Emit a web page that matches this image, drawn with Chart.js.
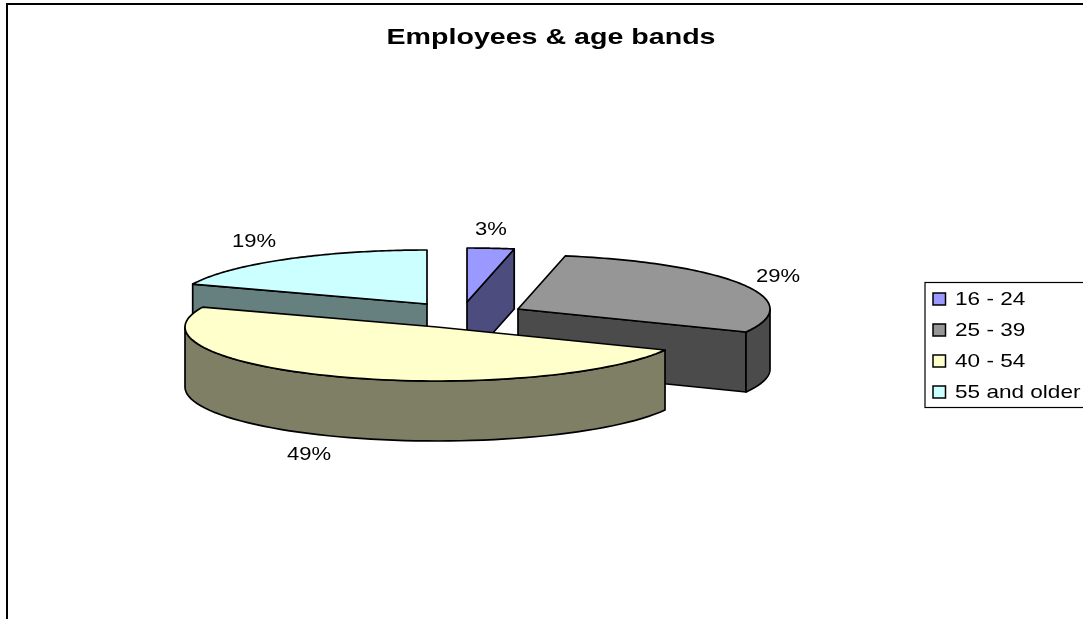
<!DOCTYPE html>
<html>
<head>
<meta charset="utf-8">
<title>Employees & age bands</title>
<script src="https://cdn.jsdelivr.net/npm/chart.js@4"></script>
<style>
  html, body { margin: 0; padding: 0; background: #fff; overflow: hidden; }
  #wrap { width: 1083px; height: 619px; }
</style>
</head>
<body>
<div id="wrap"><canvas id="pieChart" width="1083" height="619"></canvas></div>
<script>
// Data
const chartTitle = 'Employees & age bands';
const ageBands = ['16 - 24', '25 - 39', '40 - 54', '55 and older'];
const sharePercent = [3, 29, 49, 19];

// Colours per slice
const topColors = ['#9999ff', '#969696', '#ffffcc', '#ccffff'];
const wallColors = ['#4c4c7f', '#4b4b4b', '#7f7f66', '#667f7f'];

// Look of the 3D pie
const pieRadiusX = 252;
const pieRadiusY = 54;
const pieDepth = 60;
const sliceTips = [[467, 302], [518, 309], [437, 327], [427, 304]]; // exploded slice tips
const drawOrder = [3, 0, 1, 2]; // back to front
const labelPos = [[491, 230], [778, 277], [309, 454.5], [254, 242]];
const labelStretch = 1.19;
const titleStretch = 1.3;

// text with a horizontal stretch, the original was scaled wider
function stretchedText(ctx, text, x, y, font, stretch, align) {
  ctx.save();
  ctx.font = font;
  ctx.fillStyle = '#000';
  ctx.textBaseline = 'middle';
  ctx.textAlign = align;
  ctx.translate(x, y);
  ctx.scale(stretch, 1);
  ctx.fillText(text, 0, 0);
  ctx.restore();
}

function fillStroke(ctx, color) {
  ctx.fillStyle = color;
  ctx.fill();
  ctx.strokeStyle = '#000';
  ctx.lineWidth = 1.7;
  ctx.lineJoin = 'round';
  ctx.stroke();
}

// Draw one arc element as an extruded, squashed slice
function drawSlice(ctx, arc, index) {
  const [tipX, tipY] = sliceTips[index];
  const { startAngle, endAngle } = arc.getProps(['startAngle', 'endAngle'], true);
  const px = a => tipX + Math.cos(a) * pieRadiusX;
  const py = a => tipY + Math.sin(a) * pieRadiusY;

  // radial walls which face the viewer
  [[startAngle, startAngle - Math.PI / 2], [endAngle, endAngle + Math.PI / 2]].forEach(([a, normal]) => {
    if (Math.sin(normal) <= 0.001) return;
    ctx.beginPath();
    ctx.moveTo(tipX, tipY);
    ctx.lineTo(px(a), py(a));
    ctx.lineTo(px(a), py(a) + pieDepth);
    ctx.lineTo(tipX, tipY + pieDepth);
    ctx.closePath();
    fillStroke(ctx, wallColors[index]);
  });

  // rim, only the part at the front
  const from = Math.max(startAngle, 0);
  const to = Math.min(endAngle, Math.PI);
  if (to > from) {
    ctx.beginPath();
    for (let i = 0; i <= 60; i++) {
      const a = from + (to - from) * i / 60;
      ctx.lineTo(px(a), py(a));
    }
    for (let i = 60; i >= 0; i--) {
      const a = from + (to - from) * i / 60;
      ctx.lineTo(px(a), py(a) + pieDepth);
    }
    ctx.closePath();
    fillStroke(ctx, wallColors[index]);
  }

  // top face
  ctx.beginPath();
  ctx.moveTo(tipX, tipY);
  for (let i = 0; i <= 80; i++) {
    const a = startAngle + (endAngle - startAngle) * i / 80;
    ctx.lineTo(px(a), py(a));
  }
  ctx.closePath();
  fillStroke(ctx, topColors[index]);
}

// Plugin: frame, title, 3D slices, percent labels and legend box
const pie3d = {
  id: 'pie3d',
  beforeDraw(chart) {
    const ctx = chart.ctx;
    ctx.save();
    ctx.fillStyle = '#fff';
    ctx.fillRect(0, 0, chart.width, chart.height);
    ctx.strokeStyle = '#000';
    ctx.lineWidth = 2;
    ctx.beginPath();
    ctx.moveTo(7, chart.height);
    ctx.lineTo(7, 4);
    ctx.lineTo(chart.width, 4);
    ctx.stroke();
    ctx.restore();
    stretchedText(ctx, chartTitle, 551, 38, 'bold 22px "Liberation Sans"', titleStretch, 'center');
  },
  beforeDatasetDraw(chart, args) {
    const ctx = chart.ctx;
    const arcs = args.meta.data;
    ctx.save();
    drawOrder.forEach(i => drawSlice(ctx, arcs[i], i));
    ctx.restore();
    return false; // the slices are done here
  },
  afterDraw(chart) {
    const ctx = chart.ctx;
    const values = chart.data.datasets[0].data;
    values.forEach((v, i) => {
      stretchedText(ctx, v + '%', labelPos[i][0], labelPos[i][1], '18.5px "Liberation Sans"', labelStretch, 'center');
    });

    // legend
    ctx.save();
    ctx.strokeStyle = '#000';
    ctx.lineWidth = 1.2;
    ctx.strokeRect(925, 282.5, 170, 125);
    chart.data.labels.forEach((label, i) => {
      const y = 299 + i * 31;
      ctx.fillStyle = topColors[i];
      ctx.fillRect(933, y - 6, 12.5, 12);
      ctx.lineWidth = 1.5;
      ctx.strokeRect(933, y - 6, 12.5, 12);
      stretchedText(ctx, label, 955, y + 1, '18.5px "Liberation Sans"', 1.22, 'left');
    });
    ctx.restore();
  }
};

new Chart(document.getElementById('pieChart'), {
  type: 'pie',
  data: {
    labels: ageBands,
    datasets: [{ data: sharePercent, backgroundColor: topColors, borderColor: '#000' }]
  },
  options: {
    responsive: false,
    animation: false,
    plugins: {
      legend: { display: false },
      title: { display: false },
      tooltip: { enabled: false }
    }
  },
  plugins: [pie3d]
});
</script>
</body>
</html>
